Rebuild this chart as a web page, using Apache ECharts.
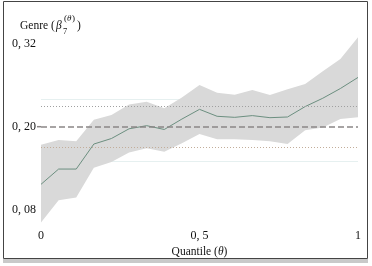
<!DOCTYPE html>
<html>
<head>
<meta charset="utf-8">
<script src="https://cdn.jsdelivr.net/npm/echarts@6/dist/echarts.min.js"></script>
<style>
  html, body { margin: 0; padding: 0; background: #fff; }
  #chart { width: 372px; height: 266px; }
</style>
</head>
<body>
<div id="chart"></div>
<script>
// quantiles on the x axis (theta)
const quantiles = ['0', '0.056', '0.111', '0.167', '0.222', '0.278', '0.333', '0.389', '0.444', '0.5',
  '0.556', '0.611', '0.667', '0.722', '0.778', '0.833', '0.889', '0.944', '1']
const xTickLabels = { '0': '0', '0.5': '0, 5', '1': '1' }

// coefficient estimate and confidence band
const estimate = [0.117, 0.139, 0.139, 0.175, 0.183, 0.197, 0.2015, 0.196, 0.211, 0.225,
  0.215, 0.2135, 0.216, 0.213, 0.214, 0.229, 0.241, 0.255, 0.271]
const upper = [0.174, 0.181, 0.179, 0.210, 0.217, 0.232, 0.236, 0.2265, 0.242, 0.260,
  0.249, 0.246, 0.253, 0.2457, 0.254, 0.2615, 0.280, 0.2975, 0.329]
const lower = [0.062, 0.094, 0.098, 0.141, 0.149, 0.163, 0.169, 0.164, 0.176, 0.1895,
  0.182, 0.182, 0.181, 0.179, 0.175, 0.195, 0.199, 0.211, 0.2135]

// reference lines: OLS estimate and its interval
const olsValue = 0.20
const olsUpper = 0.225
const olsLower = 0.175

// y tick labels and faint grid lines
const yTicks = [0.08, 0.20, 0.32]
const gridValues = [0.062, 0.151, 0.240, 0.3288]

const serif = '"Liberation Serif", "DejaVu Serif", serif'

const chart = echarts.init(document.getElementById('chart'))

const option = {
  animation: false,
  grid: { left: 41, right: 14, top: 37.3, bottom: 43.5 },
  xAxis: {
    type: 'category',
    data: quantiles,
    boundaryGap: false,
    name: 'Quantile ({i|θ})',
    nameLocation: 'middle',
    nameGap: 17,
    nameTextStyle: {
      fontFamily: serif, fontSize: 11.5, color: '#111',
      rich: { i: { fontFamily: serif, fontSize: 11.5, fontStyle: 'italic', color: '#111' } }
    },
    axisLine: { show: false },
    axisTick: { show: false },
    splitLine: { show: false },
    axisLabel: {
      interval: 0,
      margin: 7,
      fontFamily: serif,
      fontSize: 12,
      color: '#111',
      formatter: v => xTickLabels[v] || ''
    }
  },
  yAxis: {
    type: 'value',
    min: 0.062,
    max: 0.3288,
    axisLine: { show: false },
    axisTick: { show: false },
    splitLine: { show: false },
    axisLabel: {
      customValues: yTicks,
      margin: 5,
      fontFamily: serif,
      fontSize: 12,
      color: '#111',
      formatter: v => v.toFixed(2).replace('.', ', ')
    }
  },
  graphic: [
    { type: 'rect', shape: { x: 3.5, y: 1.5, width: 364, height: 257 }, style: { fill: 'none', stroke: '#444', lineWidth: 1 }, silent: true },
    { type: 'rect', shape: { x: 3, y: 259, width: 365, height: 4 }, style: { fill: '#c9c9c9' }, silent: true },
    { type: 'text', left: 20, top: 20, style: { text: 'Genre (', font: '11.5px ' + serif, fill: '#111' } },
    { type: 'text', left: 56, top: 20, style: { text: 'β', font: 'italic 11.5px ' + serif, fill: '#111' } },
    { type: 'text', left: 64, top: 14, style: { text: '(', font: '9px ' + serif, fill: '#111' } },
    { type: 'text', left: 67, top: 14, style: { text: 'θ', font: 'italic 9px ' + serif, fill: '#111' } },
    { type: 'text', left: 72, top: 14, style: { text: ')', font: '9px ' + serif, fill: '#111' } },
    { type: 'text', left: 63, top: 27, style: { text: '7', font: '8.5px ' + serif, fill: '#111' } },
    { type: 'text', left: 77, top: 20, style: { text: ')', font: '11.5px ' + serif, fill: '#111' } },
    { type: 'line', shape: { x1: 37, y1: 126.7, x2: 41, y2: 126.7 }, style: { stroke: '#8a8686', lineWidth: 1.5 }, silent: true }
  ],
  series: [
    {
      name: 'lower',
      type: 'line',
      stack: 'ci',
      data: lower,
      symbol: 'none',
      lineStyle: { opacity: 0 },
      z: 2,
      markLine: {
        silent: true,
        symbol: 'none',
        z: 1,
        label: { show: false },
        lineStyle: { type: 'solid', color: '#e6f0f0', width: 1 },
        data: gridValues.map(v => ({ yAxis: v }))
      }
    },
    {
      name: 'band',
      type: 'line',
      stack: 'ci',
      data: upper.map((u, i) => u - lower[i]),
      symbol: 'none',
      lineStyle: { opacity: 0 },
      areaStyle: { color: '#d9d9d9', opacity: 1 },
      z: 2
    },
    {
      name: 'estimate',
      type: 'line',
      data: estimate,
      symbol: 'none',
      lineStyle: { color: '#6c8f80', width: 1 },
      z: 4,
      markLine: {
        silent: true,
        symbol: 'none',
        z: 5,
        label: { show: false },
        data: [
          { yAxis: olsValue, lineStyle: { type: [6, 3], color: '#8a8686', width: 1.5 } },
          { yAxis: olsUpper, lineStyle: { type: [1, 2], color: '#a0a0a0', width: 1 } },
          { yAxis: olsLower, lineStyle: { type: [1, 2], color: '#c2ad9a', width: 1 } }
        ]
      }
    }
  ]
}

chart.setOption(option)
</script>
</body>
</html>
